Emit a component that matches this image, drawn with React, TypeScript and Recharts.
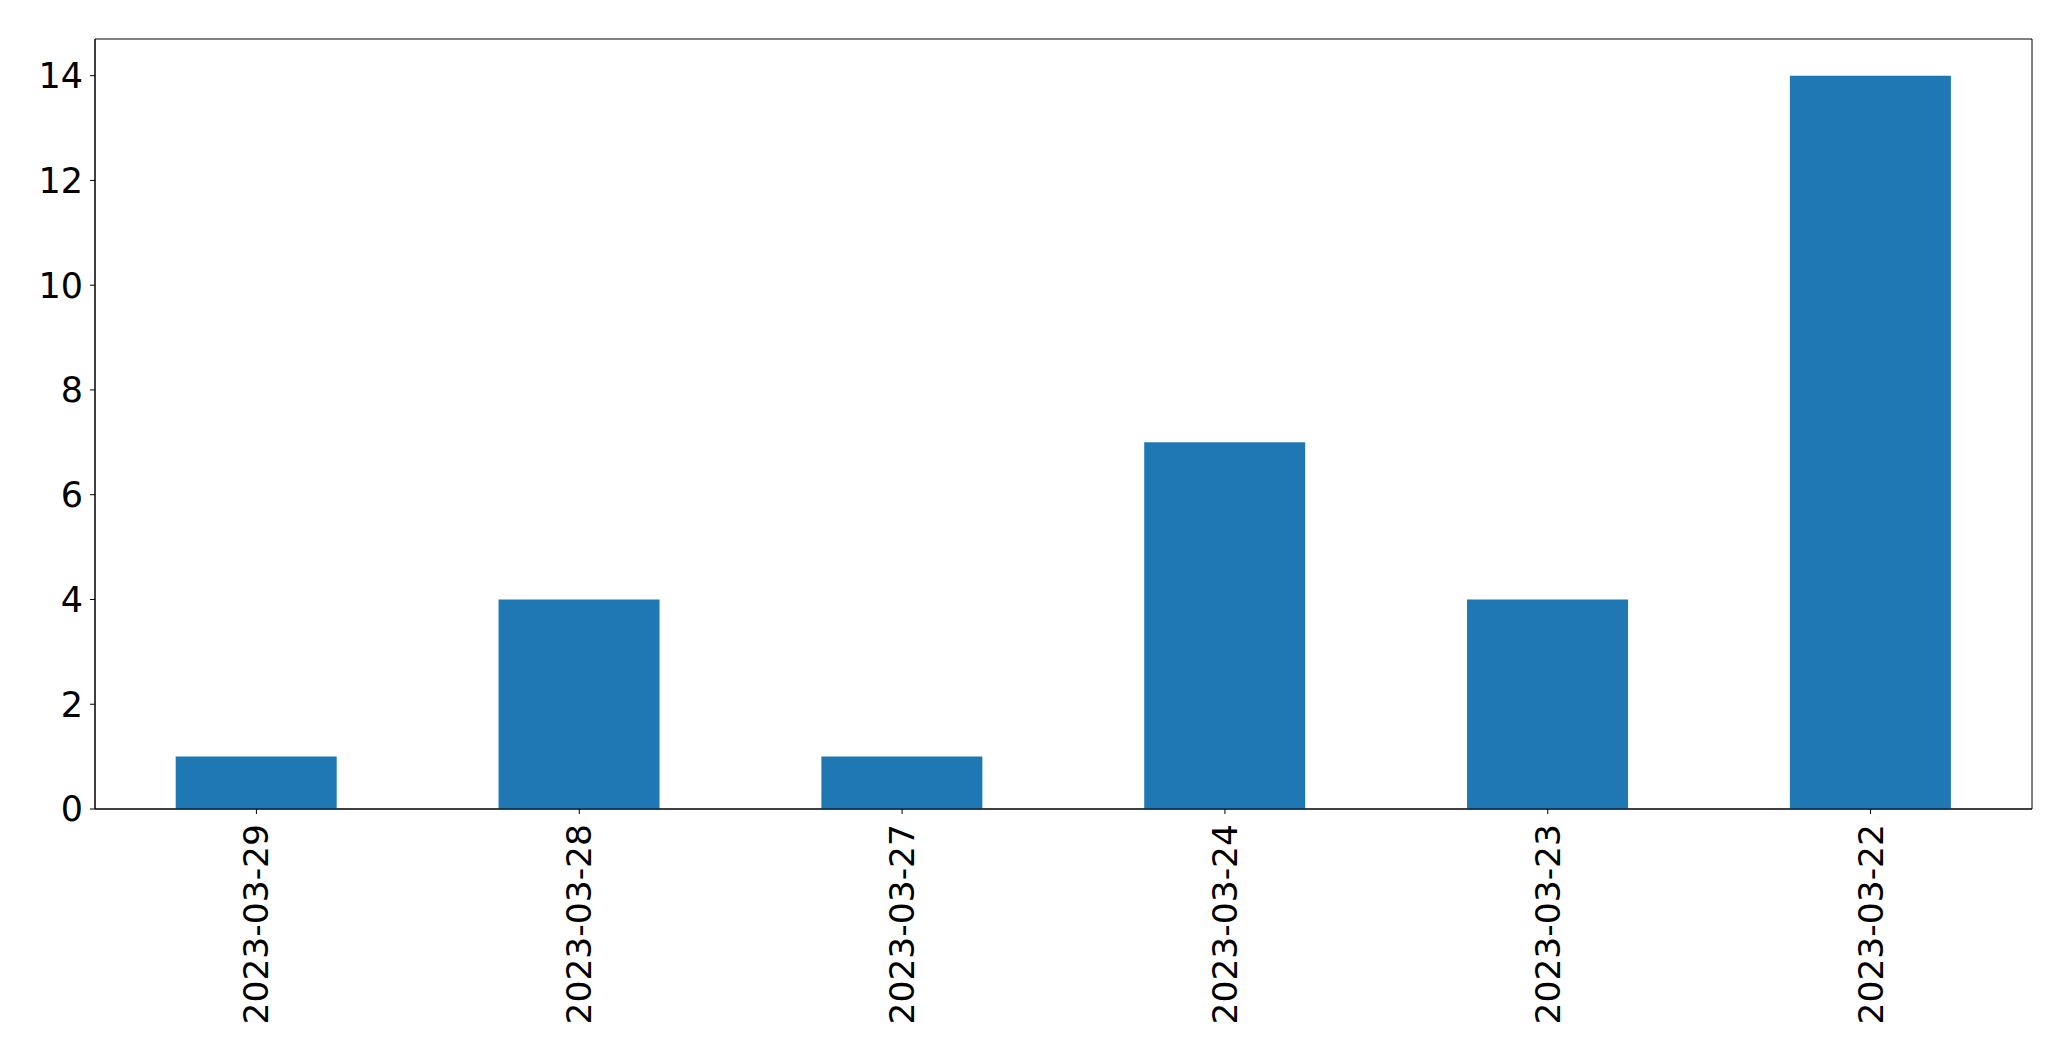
import { BarChart, Bar, XAxis, YAxis, ReferenceArea } from 'recharts';

const dates = ['2023-03-29', '2023-03-28', '2023-03-27', '2023-03-24', '2023-03-23', '2023-03-22'];
const counts = [1, 4, 1, 7, 4, 14];
const yTicks = [0, 2, 4, 6, 8, 10, 12, 14];

const data = dates.map((d, i) => ({ date: d, count: counts[i] }));

const FONT = '"DejaVu Sans", sans-serif';

const RotatedTick = (props: any) => {
  const { x, y, payload } = props;
  return (
    <g transform={`translate(${x},${y})`}>
      <text
        transform="rotate(-90)"
        textAnchor="end"
        dy="0.35em"
        fill="#000"
        fontSize={34.5}
        fontFamily={FONT}
      >
        {payload.value}
      </text>
    </g>
  );
};

export default function App() {
  return (
    <div style={{ position: 'absolute', left: 0, top: 0, background: '#fff' }}>
      <BarChart
        width={2071}
        height={1061}
        data={data}
        margin={{ top: 39, right: 39, left: 0, bottom: 0 }}
        barCategoryGap="25%"
      >
        <XAxis
          dataKey="date"
          height={252}
          tick={<RotatedTick />}
          tickSize={5}
          tickMargin={10}
          tickLine={{ stroke: '#000' }}
          axisLine={{ stroke: '#000' }}
          interval={0}
        />
        <YAxis
          width={95}
          domain={[0, 14.7]}
          ticks={yTicks}
          allowDataOverflow
          tickSize={5}
          tickMargin={7}
          tick={{ fill: '#000', fontSize: 35, fontFamily: FONT }}
          tickLine={{ stroke: '#000' }}
          axisLine={{ stroke: '#000' }}
        />
        <ReferenceArea y1={0} y2={14.7} fill="none" stroke="#000" strokeWidth={1} ifOverflow="visible" />
        <Bar dataKey="count" fill="#1f77b4" isAnimationActive={false} />
      </BarChart>
    </div>
  );
}
